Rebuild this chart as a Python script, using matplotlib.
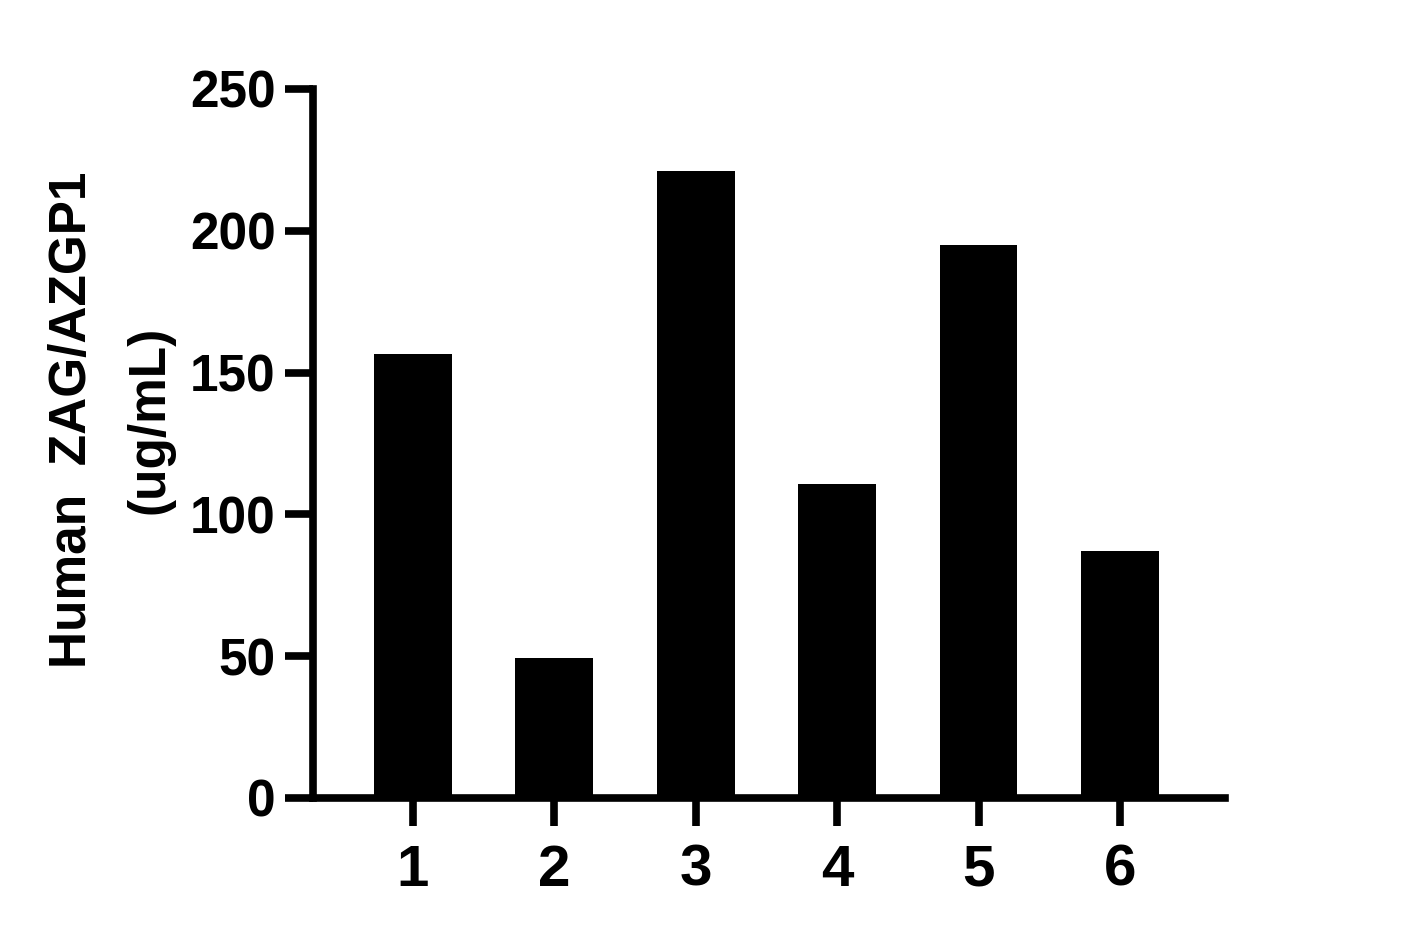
import matplotlib

matplotlib.use("Agg")
import matplotlib.pyplot as plt

samples = ["1", "2", "3", "4", "5", "6"]
zag_ugml = [156.5, 49.5, 221.0, 110.8, 195.0, 87.2]
y_ticks = [0, 50, 100, 150, 200, 250]

plt.rcParams["font.family"] = ["Liberation Sans", "DejaVu Sans"]
plt.rcParams["font.weight"] = "bold"

fig = plt.figure(figsize=(14.03, 9.39), dpi=100)
ax = fig.add_axes([0.2231, 0.1502, 0.650, 0.7551])

pos = list(range(1, len(samples) + 1))
ax.bar(pos, zag_ugml, width=0.55, color="black", edgecolor="black", linewidth=0)

ax.set_xlim(0.293, 6.743)
ax.set_ylim(0, 250)
ax.set_xticks(pos)
ax.set_xticklabels(samples, fontsize=42, fontweight="bold")
ax.set_yticks(y_ticks)
ax.set_yticklabels([str(v) for v in y_ticks], fontsize=37, fontweight="bold")

for side in ("top", "right"):
    ax.spines[side].set_visible(False)
for side in ("left", "bottom"):
    ax.spines[side].set_linewidth(5.5)
    ax.spines[side].set_capstyle("projecting")

ax.tick_params(axis="y", length=20, width=5.5, pad=7)
ax.tick_params(axis="x", length=20, width=5.5, pad=13)

fig.text(111 / 1403, 1 - 420 / 939, "Human  ZAG/AZGP1\n(ug/mL)", rotation=90,
         ha="center", va="center", fontsize=37, fontweight="bold", linespacing=1.75,
         multialignment="center")

fig.savefig("out.png", dpi=100)
